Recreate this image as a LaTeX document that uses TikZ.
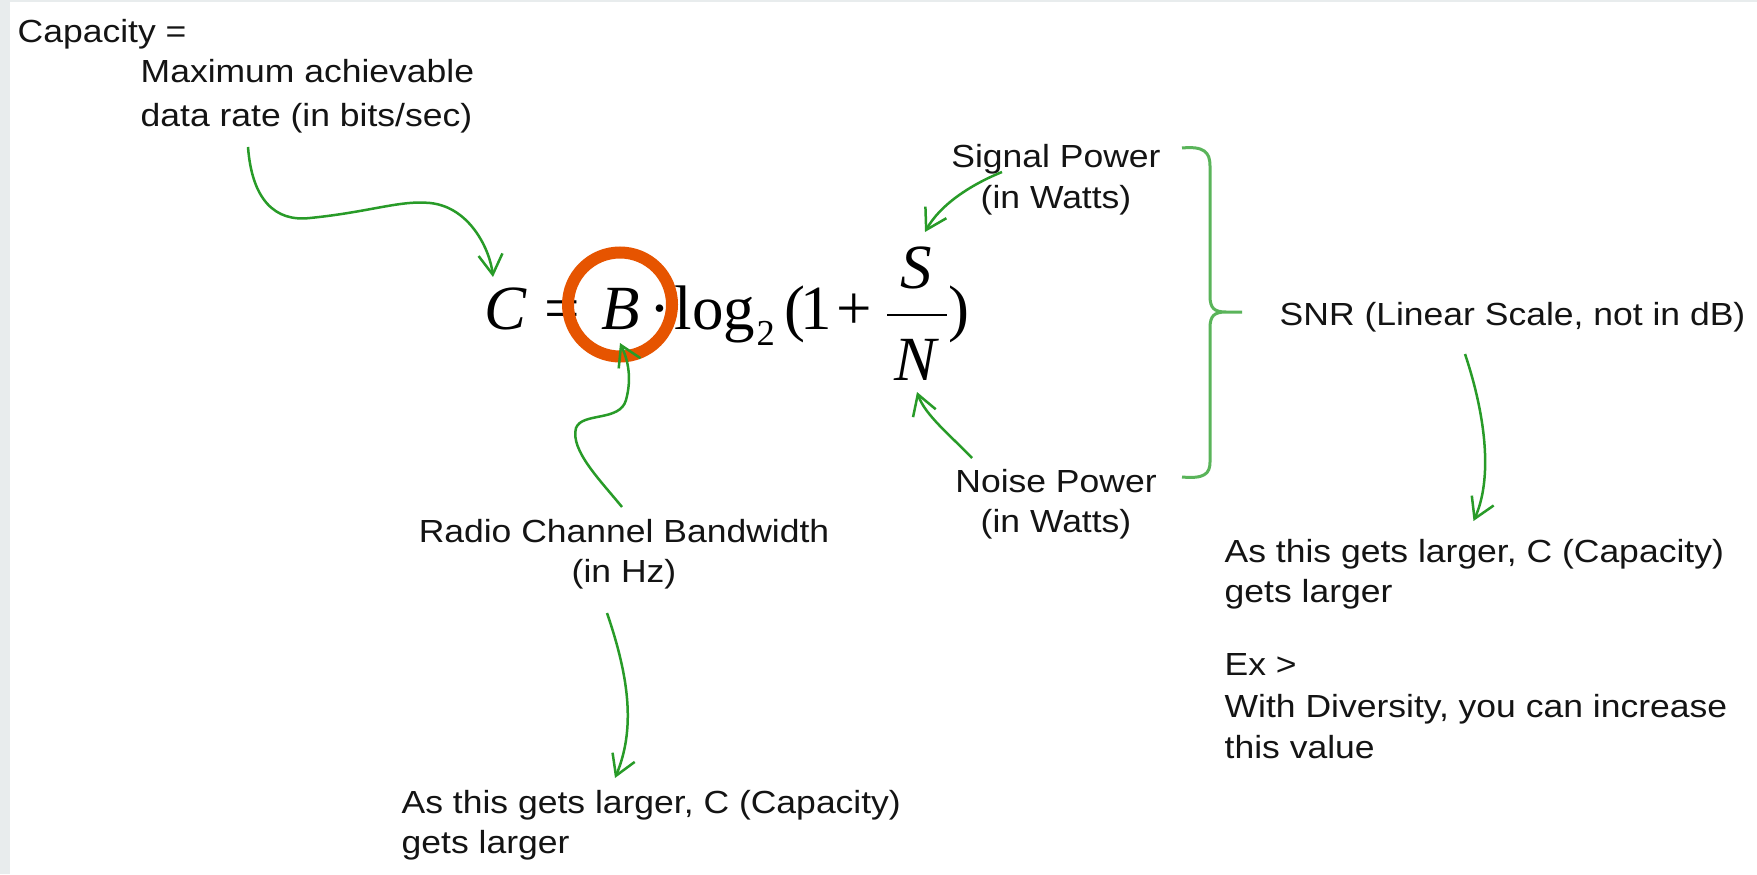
\documentclass[tikz,border=0pt]{standalone}
\usepackage{fontspec}
\setmainfont{Liberation Sans}[FakeStretch=1.11]
\newfontfamily\eqfont{Liberation Serif}
\usetikzlibrary{arrows.meta}

\definecolor{linkgreen}{RGB}{40,155,40}
\definecolor{bracegreen}{RGB}{90,180,90}
\definecolor{ringorange}{RGB}{230,84,0}
\definecolor{framegray}{RGB}{232,236,237}

\tikzset{
  lbl/.style={font=\fontsize{9.1}{11}\selectfont, text=black!92, inner sep=0pt, anchor=base west},
  eq/.style={font=\eqfont\fontsize{17.9}{20}\selectfont, inner sep=0pt, anchor=base west},
  link/.style={linkgreen, line width=0.25mm, -{Straight Barb[length=2mm,width=2.4mm]}},
}

\begin{document}
\begin{tikzpicture}[x=0.1mm, y=-0.1mm]
  \useasboundingbox (0,0) rectangle (1757,874);
  \fill[framegray] (0,0) rectangle (1757,874);
  \fill[white] (10,2) rectangle (1757,874);

  % the formula, piece by piece
  \node[eq] (C) at (484,329) {\textit{C}};
  \node[eq] (eqsign) at (544,329) {=};
  \node[eq] (B) at (601,329) {\textit{B}};
  \node[eq] (dot) at (649,329) {·};
  \node[eq] (log) at (674,329) {log};
  \node[eq, font=\eqfont\fontsize{10.4}{11}\selectfont] (two) at (756,345) {2};
  \node[eq] (lpar) at (784,329) {(};
  \node[eq] (one) at (800,329) {1};
  \node[eq] (plus) at (836,329) {+};
  \node[eq, anchor=base] (S) at (916.5,288) {\textit{S}};
  \node[eq, anchor=base] (N) at (916.5,380) {\textit{N}};
  \draw[line width=0.28mm] (887,315) -- (947,315);
  \node[eq] (rpar) at (948,329) {)};

  % B is the one we care about
  \draw[ringorange, line width=1.2mm] (620,304.5) circle[radius=52];

  % labels
  \node[lbl] (cap) at (17,43) {Capacity =};
  \node[lbl] (rate1) at (140,83) {Maximum achievable};
  \node[lbl] (rate2) at (140,127) {data rate (in bits/sec)};
  \node[lbl, anchor=base] (sp1) at (1056,168) {Signal Power};
  \node[lbl, anchor=base] (sp2) at (1056,208) {(in Watts)};
  \node[lbl, anchor=base] (np1) at (1056,492) {Noise Power};
  \node[lbl, anchor=base] (np2) at (1056,532) {(in Watts)};
  \node[lbl] (snr) at (1279,325) {SNR (Linear Scale, not in dB)};
  \node[lbl, anchor=base] (bw1) at (624,542) {Radio Channel Bandwidth};
  \node[lbl, anchor=base] (bw2) at (624,582) {(in Hz)};
  \node[lbl] (lg1) at (401,813) {As this gets larger, C (Capacity)};
  \node[lbl] (lg2) at (401,853) {gets larger};
  \node[lbl] (rg1) at (1224,562) {As this gets larger, C (Capacity)};
  \node[lbl] (rg2) at (1224,602) {gets larger};
  \node[lbl] (ex1) at (1224,675) {Ex >};
  \node[lbl] (ex2) at (1224,717) {With Diversity, you can increase};
  \node[lbl] (ex3) at (1224,758) {this value};

  % green arrows
  \draw[link] ([shift={(108,20)}]rate2.base west)
    .. controls (252,200) and (275,222) .. (310,218)
    .. controls (370,212) and (400,200) .. (430,203)
    .. controls (470,207) and (490,250) .. ([shift={(9,-52)}]C.base west);
  \draw[link] ([shift={(-2,-35)}]bw1.base)
    .. controls (600,480) and (570,450) .. (576,428)
    .. controls (582,412) and (620,422) .. (626,400)
    .. controls (632,378) and (628,360) .. ([shift={(19,14)}]B.base west);
  \draw[link] ([shift={(-17,31)}]bw2.base)
    .. controls (630,680) and (635,730) .. ([shift={(214,-35)}]lg1.base west);
  \draw[link] ([shift={(-54,4)}]sp1.base)
    .. controls (970,185) and (940,205) .. ([shift={(8.5,-56)}]S.base);
  \draw[link] ([shift={(-84,-34)}]np1.base)
    .. controls (950,435) and (925,415) .. ([shift={(0.5,12)}]N.base);
  \draw[link] ([shift={(186,29)}]snr.base west)
    .. controls (1487,420) and (1492,480) .. ([shift={(249.5,-41)}]rg1.base west);

  % brace grouping S and N
  \draw[bracegreen, line width=0.3mm]
    (1182,148) .. controls (1204,146) and (1210,152) .. (1210,166) -- (1210,296)
    .. controls (1210,308) and (1214,312) .. (1226,312) -- (1242,312)
    (1226,312) .. controls (1214,312) and (1210,316) .. (1210,328) -- (1210,462)
    .. controls (1210,474) and (1204,479) .. (1182,477);
\end{tikzpicture}
\end{document}
